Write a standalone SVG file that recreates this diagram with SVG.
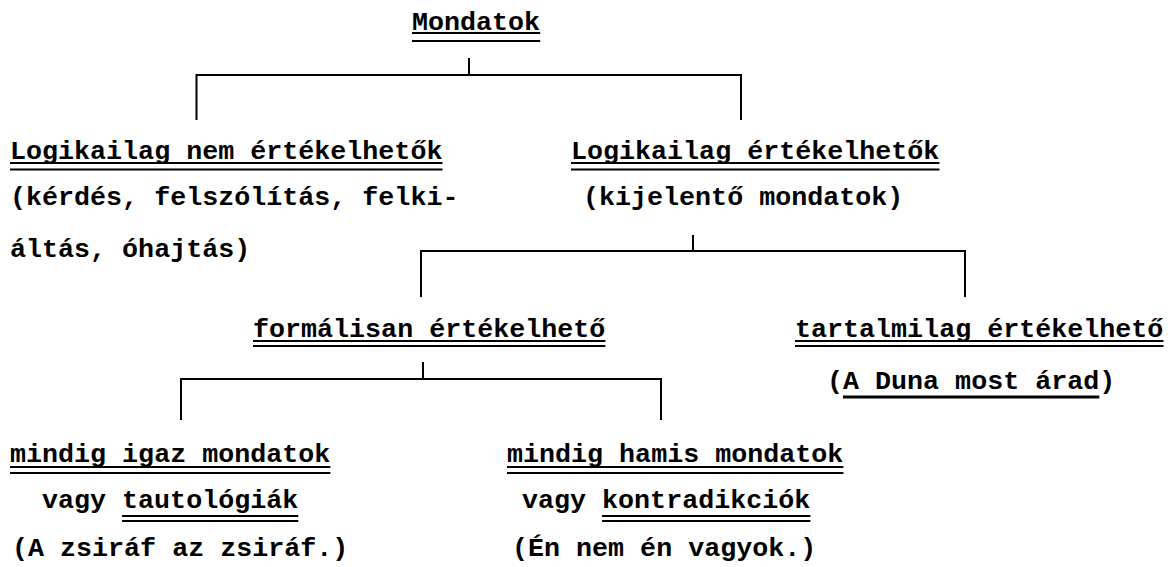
<svg xmlns="http://www.w3.org/2000/svg" width="1168" height="567" viewBox="0 0 1168 567">
<style>
text{font-family:"Liberation Mono","Courier New",monospace;font-weight:bold;font-size:26.7px;fill:#000}
.u{stroke:#000;stroke-width:2;fill:none}
.c{stroke:#000;stroke-width:2;fill:none}
</style>
<rect width="1168" height="567" fill="#fff"/>
<g id="connectors">
<path class="c" d="M469,58 V75 M196.5,120 V75 H741 V120"/>
<path class="c" d="M693,235 V251 M421,297 V251 H965 V297"/>
<path class="c" d="M423,362 V379 M181,420 V379 H661 V420"/>
</g>
<g id="n-mondatok">
<text x="412" y="30">Mondatok</text>
<path class="u" d="M412,33 H540.2 M412,41 H540.2"/>
</g>
<g id="n-nem">
<text x="10" y="159">Logikailag nem értékelhetők</text>
<path class="u" d="M10,163 H442.5 M10,169.5 H442.5"/>
<text x="10" y="205">(kérdés, felszólítás, felki-</text>
<text x="10" y="257">áltás, óhajtás)</text>
</g>
<g id="n-ertekelheto">
<text x="571" y="159">Logikailag értékelhetők</text>
<path class="u" d="M571,163 H939.5 M571,169.5 H939.5"/>
<text x="583" y="205">(kijelentő mondatok)</text>
</g>
<g id="n-formalisan">
<text x="253" y="337">formálisan értékelhető</text>
<path class="u" d="M253,341 H605.4 M253,346 H605.4"/>
</g>
<g id="n-tartalmilag">
<text x="795" y="337">tartalmilag értékelhető</text>
<path class="u" d="M795,341 H1163.5 M795,346 H1163.5"/>
<text x="827" y="389">(A Duna most árad)</text>
<path d="M843,397 H1099.3" stroke="#000" stroke-width="3"/>
</g>
<g id="n-igaz">
<text x="10" y="462">mindig igaz mondatok</text>
<path class="u" d="M10,467 H330.4 M10,473 H330.4"/>
<text x="42" y="508">vagy tautológiák</text>
<path class="u" d="M122.1,516 H298.3 M122.1,521 H298.3"/>
<text x="12" y="556">(A zsiráf az zsiráf.)</text>
</g>
<g id="n-hamis">
<text x="507" y="462">mindig hamis mondatok</text>
<path class="u" d="M507,467 H843.4 M507,473 H843.4"/>
<text x="522" y="508">vagy kontradikciók</text>
<path class="u" d="M602.1,516 H810.4 M602.1,521 H810.4"/>
<text x="512" y="556">(Én nem én vagyok.)</text>
</g>
</svg>
